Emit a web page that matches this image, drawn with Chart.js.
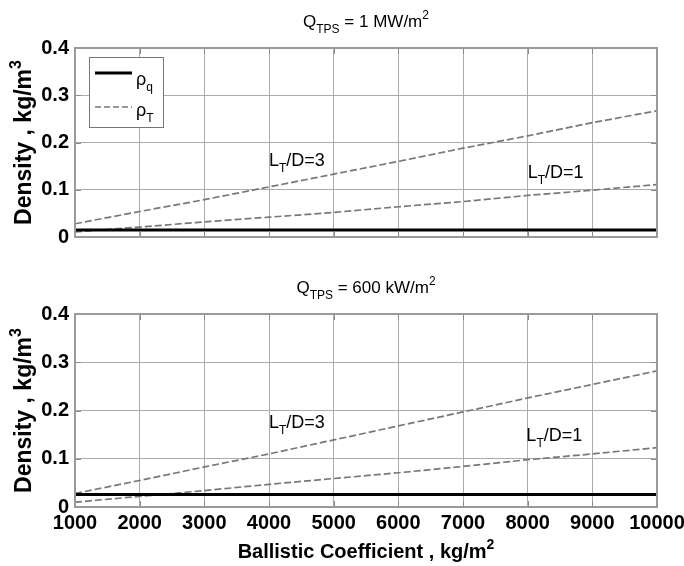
<!DOCTYPE html>
<html>
<head>
<meta charset="utf-8">
<script src="https://cdn.jsdelivr.net/npm/chart.js@4.4.1/dist/chart.umd.min.js"></script>
<style>
  html, body { margin: 0; padding: 0; background: #fff; }
  .box { position: relative; width: 684px; }
</style>
</head>
<body>
<div class="box" style="height:260px"><canvas id="topChart"></canvas></div>
<div class="box" style="height:306px"><canvas id="bottomChart"></canvas></div>
<script>
// Ballistic coefficient, kg/m^2
const ballistic = [1000, 2000, 3000, 4000, 5000, 6000, 7000, 8000, 9000, 10000];
const yTicks = [0, 0.1, 0.2, 0.3, 0.4];

// Q_TPS = 1 MW/m^2
const rhoQ_1MW = [0.015, 0.015, 0.015, 0.015, 0.015, 0.015, 0.015, 0.015, 0.015, 0.015];
const rhoT_LD3_1MW = [0.028, 0.054, 0.079, 0.106, 0.133, 0.160, 0.188, 0.214, 0.242, 0.267];
const rhoT_LD1_1MW = [0.011, 0.021, 0.032, 0.042, 0.052, 0.064, 0.075, 0.088, 0.099, 0.111];

// Q_TPS = 600 kW/m^2
const rhoQ_600kW = [0.026, 0.026, 0.026, 0.026, 0.026, 0.026, 0.026, 0.026, 0.026, 0.026];
const rhoT_LD3_600kW = [0.028, 0.055, 0.083, 0.110, 0.139, 0.168, 0.197, 0.226, 0.254, 0.282];
const rhoT_LD1_600kW = [0.010, 0.022, 0.034, 0.047, 0.059, 0.071, 0.084, 0.098, 0.110, 0.123];

// label anchors (x, y in data units)
const labelsTop = [{ text: "3", x: 4000, y: 0.150 }, { text: "1", x: 8000, y: 0.125 }];
const labelsBottom = [{ text: "3", x: 4000, y: 0.163 }, { text: "1", x: 7980, y: 0.136 }];

const FONT = "'Liberation Sans', Arial, sans-serif";
const GREY_DASH = "#787878";

const pts = (ys) => ballistic.map((x, i) => ({ x: x, y: ys[i] }));

// draws text pieces with sub / superscripts, s: 0 normal, -1 sub, 1 super
function richText(ctx, parts, x, y, size, weight, align) {
    const widths = parts.map(p => {
        ctx.font = `${weight} ${p.s ? Math.round(size * 0.68) : size}px ${FONT}`;
        return ctx.measureText(p.t).width;
    });
    const total = widths.reduce((a, b) => a + b, 0);
    let cx = align === "center" ? x - total / 2 : x;
    ctx.textAlign = "left";
    ctx.textBaseline = "alphabetic";
    parts.forEach((p, i) => {
        ctx.font = `${weight} ${p.s ? Math.round(size * 0.68) : size}px ${FONT}`;
        const dy = p.s === -1 ? size * 0.33 : p.s === 1 ? -size * 0.45 : 0;
        ctx.fillText(p.t, cx, y + dy);
        cx += widths[i];
    });
}

function makePlugin(cfg) {
    return {
        id: "matlabDeco",
        afterDraw(chart) {
            const ctx = chart.ctx;
            const a = chart.chartArea;
            const xs = chart.scales.x, ys = chart.scales.y;
            ctx.save();
            ctx.fillStyle = "#000";

            // inner ticks
            ctx.strokeStyle = "#8a8a8a";
            ctx.lineWidth = 1;
            ctx.beginPath();
            ballistic.forEach(v => {
                const px = Math.round(xs.getPixelForValue(v)) + 0.5;
                ctx.moveTo(px, a.bottom); ctx.lineTo(px, a.bottom - 6);
                ctx.moveTo(px, a.top); ctx.lineTo(px, a.top + 6);
            });
            yTicks.forEach(v => {
                const py = Math.round(ys.getPixelForValue(v)) + 0.5;
                ctx.moveTo(a.left, py); ctx.lineTo(a.left + 6, py);
                ctx.moveTo(a.right, py); ctx.lineTo(a.right - 6, py);
            });
            ctx.stroke();

            // box
            ctx.strokeStyle = "#9a9a9a";
            ctx.lineWidth = 2;
            ctx.strokeRect(a.left, a.top, a.right - a.left, a.bottom - a.top);

            // title
            richText(ctx, [{ t: "Q", s: 0 }, { t: "TPS", s: -1 }, { t: cfg.title, s: 0 }, { t: "2", s: 1 }],
                (a.left + a.right) / 2, a.top - 21, 17, "normal", "center");

            // y title
            ctx.save();
            ctx.translate(31, (a.top + a.bottom) / 2);
            ctx.rotate(-Math.PI / 2);
            richText(ctx, [{ t: "Density , kg/m", s: 0 }, { t: "3", s: 1 }], 0, 0, 23, "bold", "center");
            ctx.restore();

            // L_T/D labels
            cfg.labels.forEach(l => {
                richText(ctx, [{ t: "L", s: 0 }, { t: "T", s: -1 }, { t: "/D=" + l.text, s: 0 }],
                    xs.getPixelForValue(l.x), ys.getPixelForValue(l.y), 18, "normal", "left");
            });

            if (cfg.xTitle) {
                richText(ctx, [{ t: "Ballistic Coefficient , kg/m", s: 0 }, { t: "2", s: 1 }],
                    (a.left + a.right) / 2, a.bottom + 51, 20, "bold", "center");
            }

            if (cfg.legend) {
                const bx = a.left + 14, by = a.top + 9;
                ctx.fillStyle = "#fff";
                ctx.fillRect(bx, by, 74, 70);
                ctx.strokeStyle = "#777";
                ctx.lineWidth = 1;
                ctx.strokeRect(bx + 0.5, by + 0.5, 74, 70);
                ctx.strokeStyle = "#000";
                ctx.lineWidth = 3;
                ctx.beginPath(); ctx.moveTo(bx + 6, by + 16); ctx.lineTo(bx + 43, by + 16); ctx.stroke();
                ctx.strokeStyle = GREY_DASH;
                ctx.lineWidth = 1.6;
                ctx.setLineDash([6, 3]);
                ctx.beginPath(); ctx.moveTo(bx + 6, by + 50); ctx.lineTo(bx + 43, by + 50); ctx.stroke();
                ctx.setLineDash([]);
                ctx.fillStyle = "#000";
                richText(ctx, [{ t: "ρ", s: 0 }, { t: "q", s: -1 }], bx + 47, by + 28, 18, "normal", "left");
                richText(ctx, [{ t: "ρ", s: 0 }, { t: "T", s: -1 }], bx + 47, by + 59, 18, "normal", "left");
            }
            ctx.restore();
        }
    };
}

function makeChart(id, q, ld3, ld1, cfg) {
    const ctx = document.getElementById(id).getContext("2d");
    return new Chart(ctx, {
        type: "line",
        data: {
            datasets: [
                { label: "rho_q", data: pts(q), borderColor: "#000", borderWidth: 3, pointRadius: 0, fill: false },
                { label: "rho_T L/D=3", data: pts(ld3), borderColor: GREY_DASH, borderWidth: 1.7, borderDash: [7, 3], pointRadius: 0, fill: false },
                { label: "rho_T L/D=1", data: pts(ld1), borderColor: GREY_DASH, borderWidth: 1.7, borderDash: [7, 3], pointRadius: 0, fill: false }
            ]
        },
        options: {
            responsive: true,
            maintainAspectRatio: false,
            animation: false,
            layout: { padding: cfg.padding },
            plugins: { legend: { display: false }, tooltip: { enabled: false } },
            scales: {
                x: {
                    type: "linear",
                    min: 1000,
                    max: 10000,
                    afterBuildTicks: (s) => { s.ticks = ballistic.map(v => ({ value: v })); },
                    afterFit: (s) => { s.height = cfg.xHeight; s.paddingLeft = 0; s.paddingRight = 0; },
                    border: { display: false },
                    grid: { color: "#ababab", borderDash: [1, 3], drawTicks: false },
                    ticks: {
                        display: cfg.xTitle,
                        padding: 4,
                        color: "#000",
                        font: { family: FONT, size: 20, weight: "bold" },
                        maxRotation: 0,
                        callback: (v) => String(v)
                    }
                },
                y: {
                    min: 0,
                    max: 0.4,
                    afterBuildTicks: (s) => { s.ticks = yTicks.map(v => ({ value: v })); },
                    afterFit: (s) => { s.width = 75; s.paddingTop = 0; s.paddingBottom = 0; },
                    border: { display: false },
                    grid: { color: "#ababab", borderDash: [1, 3], drawTicks: false },
                    ticks: {
                        padding: 6,
                        color: "#000",
                        font: { family: FONT, size: 20, weight: "bold" },
                        callback: (v) => v === 0 ? "0" : v.toFixed(1)
                    }
                }
            }
        },
        plugins: [makePlugin(cfg)]
    });
}

makeChart("topChart", rhoQ_1MW, rhoT_LD3_1MW, rhoT_LD1_1MW, {
    title: " = 1 MW/m", labels: labelsTop, legend: true, xTitle: false, xHeight: 0,
    padding: { left: 0, right: 27, top: 48, bottom: 23 }
});

makeChart("bottomChart", rhoQ_600kW, rhoT_LD3_600kW, rhoT_LD1_600kW, {
    title: " = 600 kW/m", labels: labelsBottom, legend: false, xTitle: true, xHeight: 59,
    padding: { left: 0, right: 27, top: 54, bottom: 0 }
});
</script>
</body>
</html>
